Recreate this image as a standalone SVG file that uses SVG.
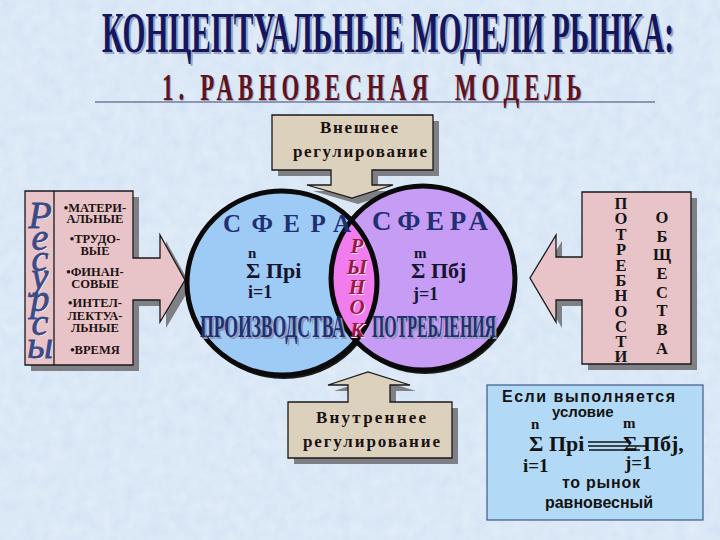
<svg xmlns="http://www.w3.org/2000/svg" width="720" height="540" viewBox="0 0 720 540">
<defs>
<style>
.serif{font-family:"Liberation Serif","Times New Roman","DejaVu Serif",serif;}
.sans{font-family:"Liberation Sans",Arial,"DejaVu Sans",sans-serif;}
.b{font-weight:bold;}
.shadow{fill:#7f7f86;}
.pink{fill:#e8c3c8;stroke:#1a1a1a;stroke-width:1.3;}
.beige{fill:#dcd1bd;stroke:#1a1a1a;stroke-width:1.3;}
.item{font-family:"Liberation Serif","Times New Roman","DejaVu Serif",serif;font-weight:bold;font-size:12.5px;fill:#1e1414;text-anchor:middle;}
.navy{fill:#1f2f72;}
.dark{fill:#14142e;}
.ring{fill:none;stroke:#0a0a0a;stroke-width:5;}
</style>
<filter id="tex" x="0" y="0" width="100%" height="100%">
<feTurbulence type="fractalNoise" baseFrequency="0.08" numOctaves="3" seed="4"/>
<feColorMatrix type="matrix" values="0 0 0 0 1  0 0 0 0 1  0 0 0 0 1  0 0 0 0.4 0"/>
</filter>
<clipPath id="leftClip"><ellipse cx="282" cy="283" rx="95" ry="92"/></clipPath>
</defs>

<g id="background">
<rect x="0" y="0" width="720" height="540" fill="#d2e2f4"/>
<rect x="0" y="0" width="720" height="540" filter="url(#tex)"/>
</g>

<g id="title">
<text transform="translate(104,54) scale(0.5,1)" x="0" y="0" class="serif b" font-size="58" fill="#9aa6c6" textLength="1144" lengthAdjust="spacingAndGlyphs">КОНЦЕПТУАЛЬНЫЕ МОДЕЛИ РЫНКА:</text>
<text transform="translate(102,52) scale(0.5,1)" x="0" y="0" class="serif b" font-size="58" fill="#15175e" textLength="1144" lengthAdjust="spacingAndGlyphs">КОНЦЕПТУАЛЬНЫЕ МОДЕЛИ РЫНКА:</text>
</g>

<g id="subtitle">
<line x1="95" y1="102" x2="655" y2="102" stroke="#3a4670" stroke-width="1.2"/>
<text transform="translate(163,101) scale(0.62,1)" x="0" y="0" class="serif b" font-size="37" fill="#a8a8b8" textLength="677" lengthAdjust="spacing" xml:space="preserve">1. РАВНОВЕСНАЯ  МОДЕЛЬ</text>
<text transform="translate(162,100) scale(0.62,1)" x="0" y="0" class="serif b" font-size="37" fill="#5e1222" textLength="677" lengthAdjust="spacing" xml:space="preserve">1. РАВНОВЕСНАЯ  МОДЕЛЬ</text>
</g>

<g id="connectors"></g>

<g id="resources">
<path class="shadow" d="M31,197 H139 V264 H166 V241 L191,286 L166,328 V306 H139 V371 H31 Z"/>
<path class="pink" d="M25,191 H133 V258 H160 V235 L185,280 L160,322 V300 H133 V365 H25 Z"/>
<line x1="54" y1="191" x2="54" y2="365" stroke="#1a1a1a" stroke-width="1.3"/>
<text class="serif" font-style="italic" font-size="38" fill="#f4eef2" text-anchor="middle">
<tspan x="41" y="229">Р</tspan><tspan x="41" y="251">е</tspan><tspan x="41" y="272">с</tspan><tspan x="41" y="290">у</tspan><tspan x="41" y="312">р</tspan><tspan x="41" y="336">с</tspan><tspan x="41" y="359">ы</tspan>
</text>
<text class="serif" font-style="italic" font-size="38" fill="#3b4a86" stroke="#3b4a86" stroke-width="0.8" text-anchor="middle">
<tspan x="40" y="228">Р</tspan><tspan x="40" y="250">е</tspan><tspan x="40" y="271">с</tspan><tspan x="40" y="289">у</tspan><tspan x="40" y="311">р</tspan><tspan x="40" y="335">с</tspan><tspan x="40" y="358">ы</tspan>
</text>
<text class="item"><tspan x="95" y="212">•МАТЕРИ-</tspan><tspan x="95" y="223">АЛЬНЫЕ</tspan><tspan x="95" y="243">•ТРУДО-</tspan><tspan x="95" y="255">ВЫЕ</tspan><tspan x="95" y="276">•ФИНАН-</tspan><tspan x="95" y="288">СОВЫЕ</tspan><tspan x="95" y="307">•ИНТЕЛ-</tspan><tspan x="95" y="320">ЛЕКТУА-</tspan><tspan x="95" y="332">ЛЬНЫЕ</tspan><tspan x="95" y="354">•ВРЕМЯ</tspan></text>
</g>

<g id="needs">
<path class="shadow" d="M588,198 H697 V370 H588 V306 H562 V328 L536,284 L562,241 V263 H588 Z"/>
<path class="pink" d="M582,192 H691 V364 H582 V300 H556 V322 L530,278 L556,235 V257 H582 Z"/>
<text class="serif b" font-size="16.5" fill="#141414" text-anchor="middle">
<tspan x="621" y="209">П</tspan><tspan x="621" y="224">О</tspan><tspan x="621" y="240">Т</tspan><tspan x="621" y="255">Р</tspan><tspan x="621" y="271">Е</tspan><tspan x="621" y="286">Б</tspan><tspan x="621" y="301">Н</tspan><tspan x="621" y="317">О</tspan><tspan x="621" y="332">С</tspan><tspan x="621" y="347">Т</tspan><tspan x="621" y="362">И</tspan>
</text>
<text class="serif b" font-size="16.5" fill="#141414" text-anchor="middle">
<tspan x="662" y="223">О</tspan><tspan x="662" y="242">Б</tspan><tspan x="662" y="260">Щ</tspan><tspan x="662" y="279">Е</tspan><tspan x="662" y="298">С</tspan><tspan x="662" y="316">Т</tspan><tspan x="662" y="335">В</tspan><tspan x="662" y="354">А</tspan>
</text>
</g>

<g id="external-regulation">
<path class="shadow" d="M278,121 H439 V176 H378 V191 H399 L358,204 L313,191 H337 V176 H278 Z"/>
<path class="beige" d="M272,115 H433 V170 H372 V185 H393 L352,198 L307,185 H331 V170 H272 Z"/>
<text x="320" y="133" class="serif b" font-size="17" fill="#1a1212" textLength="78" lengthAdjust="spacing">Внешнее</text>
<text x="293" y="157" class="serif b" font-size="17" fill="#1a1212" textLength="134" lengthAdjust="spacing">регулирование</text>
</g>

<g id="internal-regulation">
<path class="shadow" d="M294,408 H354 V391 H334 L374,378 L416,391 H396 V408 H458 V464 H294 Z"/>
<path class="beige" d="M288,402 H348 V385 H328 L368,372 L410,385 H390 V402 H452 V458 H288 Z"/>
<text x="316" y="423" class="serif b" font-size="17" fill="#1a1212" textLength="110" lengthAdjust="spacing">Внутреннее</text>
<text x="303" y="447" class="serif b" font-size="17" fill="#1a1212" textLength="137" lengthAdjust="spacing">регулирование</text>
</g>

<g id="sphere-production">
<ellipse cx="284" cy="287" rx="95" ry="92" fill="#1a1a1a"/>
<ellipse cx="282" cy="283" rx="95" ry="92" fill="#9ecbf6"/>
</g>
<g id="sphere-consumption">
<circle cx="425" cy="282" r="92" fill="#1a1a1a"/>
<circle cx="423" cy="278" r="92" fill="#c69cf4"/>
</g>
<g id="market">
<circle cx="423" cy="278" r="92" fill="#f07cee" clip-path="url(#leftClip)"/>
</g>
<g id="rings">
<ellipse class="ring" cx="282" cy="283" rx="95" ry="92"/>
<circle class="ring" cx="423" cy="278" r="92"/>
</g>

<g id="sphere-production-text">
<text x="223" y="232" class="serif b navy" font-size="25" textLength="128" lengthAdjust="spacing">СФЕРА</text>
<text x="248" y="258" class="serif b dark" font-size="15">n</text>
<text x="246" y="278" class="serif b dark" font-size="22">Σ Прi</text>
<text x="248" y="298" class="serif b dark" font-size="18">i=1</text>
<text x="202" y="339" class="serif b" font-size="31" fill="#8d96b4" textLength="145" lengthAdjust="spacingAndGlyphs">ПРОИЗВОДСТВА</text>
<text x="200" y="337" class="serif b navy" font-size="31" textLength="145" lengthAdjust="spacingAndGlyphs">ПРОИЗВОДСТВА</text>
</g>

<g id="sphere-consumption-text">
<text x="372" y="230" class="serif b navy" font-size="27" textLength="116" lengthAdjust="spacing">СФЕРА</text>
<text x="414" y="258" class="serif b dark" font-size="15">m</text>
<text x="411" y="278" class="serif b dark" font-size="22">Σ Пбj</text>
<text x="413" y="300" class="serif b dark" font-size="18">j=1</text>
<text x="374" y="339" class="serif b" font-size="31" fill="#8d96b4" textLength="124" lengthAdjust="spacingAndGlyphs">ПОТРЕБЛЕНИЯ</text>
<text x="372" y="337" class="serif b navy" font-size="31" textLength="124" lengthAdjust="spacingAndGlyphs">ПОТРЕБЛЕНИЯ</text>
</g>

<g id="market-text">
<text class="serif b" font-style="italic" font-size="21" fill="#f6e4f2" text-anchor="middle">
<tspan x="358" y="254">Р</tspan><tspan x="358" y="275">Ы</tspan><tspan x="358" y="295">Н</tspan><tspan x="358" y="315">О</tspan><tspan x="358" y="338">К</tspan>
</text>
<text class="serif b" font-style="italic" font-size="21" fill="#9a1844" text-anchor="middle">
<tspan x="357" y="253">Р</tspan><tspan x="357" y="274">Ы</tspan><tspan x="357" y="294">Н</tspan><tspan x="357" y="314">О</tspan><tspan x="357" y="337">К</tspan>
</text>
</g>

<g id="condition">
<rect x="487" y="385" width="216" height="135" fill="#b2daf6" stroke="#3f5a86" stroke-width="1.2"/>
<text x="502" y="402" class="sans b" font-size="16" fill="#121212" textLength="173" lengthAdjust="spacing">Если  выполняется</text>
<text x="552" y="417" class="sans b" font-size="15" fill="#121212">условие</text>
<text x="531" y="429" class="serif b" font-size="15" fill="#121212">n</text>
<text x="623" y="428" class="serif b" font-size="15" fill="#121212">m</text>
<text x="529" y="451" class="serif b" font-size="22" fill="#121212">Σ Прi</text>
<text x="623" y="451" class="serif b" font-size="22" fill="#121212">Σ Пбj,</text>
<g stroke="#121212" stroke-width="1.4" fill="none">
<line x1="588" y1="442" x2="628" y2="442"/>
<line x1="588" y1="446" x2="646" y2="446"/>
<line x1="589" y1="450" x2="640" y2="450"/>
</g>
<text x="523" y="472" class="serif b" font-size="19" fill="#121212">i=1</text>
<text x="625" y="469" class="serif b" font-size="19" fill="#121212">j=1</text>
<text x="562" y="488" class="sans b" font-size="16" fill="#121212" textLength="78" lengthAdjust="spacing">то рынок</text>
<text x="545" y="508" class="sans b" font-size="16" fill="#121212" textLength="108" lengthAdjust="spacing">равновесный</text>
</g>
</svg>
